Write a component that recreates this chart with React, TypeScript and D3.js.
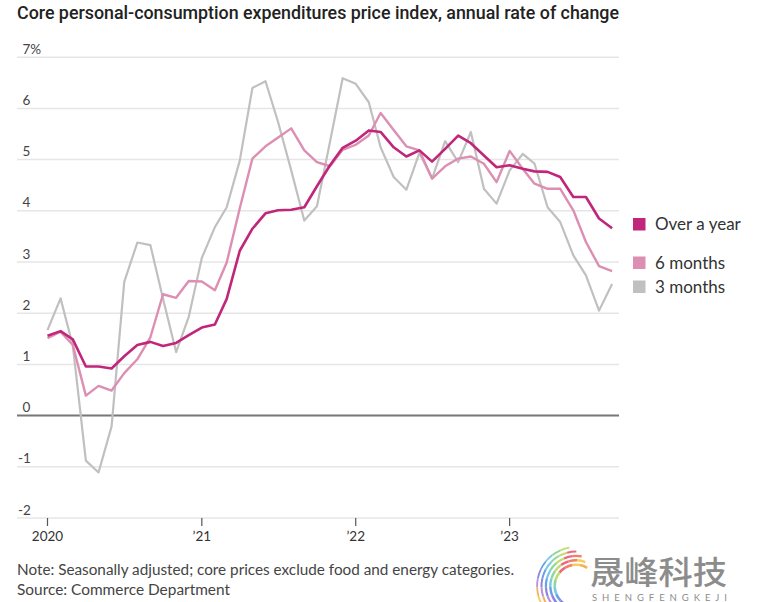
import React from "react";
import * as d3 from "d3";

const months: string[] = d3.range(45).map((i) => {
  const y = 2020 + Math.floor(i / 12);
  const m = (i % 12) + 1;
  return `${y}-${String(m).padStart(2, "0")}-01`;
});

const overYear = [1.56, 1.65, 1.49, 0.96, 0.96, 0.92, 1.16, 1.38, 1.44, 1.36, 1.42, 1.57,
  1.72, 1.78, 2.28, 3.22, 3.65, 3.95, 4.01, 4.02, 4.07, 4.48, 4.89, 5.23,
  5.37, 5.57, 5.54, 5.24, 5.06, 5.18, 4.96, 5.21, 5.47, 5.32, 5.08, 4.85,
  4.89, 4.82, 4.77, 4.76, 4.66, 4.27, 4.27, 3.85, 3.66];

const sixMonths = [1.51, 1.64, 1.38, 0.39, 0.58, 0.49, 0.83, 1.1, 1.53, 2.37, 2.3, 2.63,
  2.62, 2.45, 2.99, 4.05, 5.02, 5.26, 5.43, 5.61, 5.18, 4.95, 4.87, 5.19,
  5.29, 5.47, 5.91, 5.58, 5.26, 5.18, 4.63, 4.87, 5.02, 5.06, 4.92, 4.56,
  5.17, 4.82, 4.53, 4.43, 4.43, 4.01, 3.39, 2.92, 2.82];

const threeMonths = [1.67, 2.29, 1.37, -0.88, -1.11, -0.21, 2.61, 3.38, 3.33, 2.28, 1.24, 1.93,
  3.08, 3.68, 4.07, 4.98, 6.4, 6.53, 5.73, 4.79, 3.81, 4.09, 5.35, 6.59,
  6.48, 6.12, 5.24, 4.66, 4.41, 5.13, 4.63, 5.36, 4.95, 5.54, 4.43, 4.14,
  4.79, 5.11, 4.92, 4.07, 3.78, 3.13, 2.74, 2.05, 2.57];

const yTicks = [-2, -1, 0, 1, 2, 3, 4, 5, 6, 7];
const xTickDates = ["2020-01-01", "2021-01-01", "2022-01-01", "2023-01-01"];
const xTickLabels = ["2020", "\u201921", "\u201922", "\u201923"];

const seriesNames = ["Over a year", "6 months", "3 months"];
const seriesColors = ["#c0267a", "#dc8fb2", "#c0c0c0"];

const title = "Core personal-consumption expenditures price index, annual rate of change";
const note = "Note: Seasonally adjusted; core prices exclude food and energy categories.";
const source = "Source: Commerce Department";

const logoColors = ["#f7a23b", "#f5c542", "#ef6a4a", "#e94d6a", "#b6d85a", "#7fd08a", "#5fc1e6", "#4f8fe0", "#7a6fd8", "#a97fe0"];

export default function App() {
  const W = 780, H = 602;
  const parse = d3.timeParse("%Y-%m-%d");
  const dates = months.map((m) => parse(m) as Date);
  const x = d3.scaleTime().domain([dates[0], dates[dates.length - 1]]).range([47.5, 612.1]);
  const y = d3.scaleLinear().domain([-2, 7]).range([518, 57.2]);
  const gridL = 17, gridR = 619;

  const line = d3.line<number>().x((_, i) => x(dates[i])).y((v) => y(v)).curve(d3.curveLinear);

  const series = [threeMonths, sixMonths, overYear];
  const seriesCols = [seriesColors[2], seriesColors[1], seriesColors[0]];
  const widths = [2.2, 2.4, 2.6];

  const legendY = [224, 262.5, 286.5];

  // watermark swirl: rainbow C-shape
  const arc = d3.arc();
  const segs: { d: string; c: string }[] = [];
  const nSeg = logoColors.length;
  const a0 = 0.55, a1 = -3.05;
  for (let k = 0; k < 5; k++) {
    const r0 = 20 + k * 4.5;
    const start = a0 - k * 0.18;
    const end = a1 + k * 0.12;
    for (let j = 0; j < nSeg; j++) {
      const sa = start + ((end - start) * j) / nSeg;
      const ea = start + ((end - start) * (j + 1)) / nSeg;
      const d = arc({ innerRadius: r0, outerRadius: r0 + 2.6 - k * 0.2, startAngle: sa, endAngle: ea }) || "";
      segs.push({ d, c: logoColors[(j + k) % nSeg] });
    }
  }

  return (
    <svg width={W} height={H} style={{ position: "absolute", left: 0, top: 0, background: "#fff" }}>
      <text x={17} y={19} fontFamily="Roboto" fontWeight={500} fontSize={19} fill="#222"
        textLength={602} lengthAdjust="spacingAndGlyphs">{title}</text>

      {yTicks.map((t) => (
        <g key={t}>
          <line x1={gridL} x2={gridR} y1={y(t)} y2={y(t)}
            stroke={t === 0 ? "#777" : "#e6e6e6"} strokeWidth={t === 0 ? 2 : 1.5} />
          <text x={t < 0 ? 18 : 22.5} y={y(t) - 3.5} fontFamily="Lato" fontSize={13.5} fill="#444">
            {t === 7 ? "7%" : String(t)}
          </text>
        </g>
      ))}

      {xTickDates.map((d, i) => {
        const xx = x(parse(d) as Date);
        return (
          <g key={d}>
            <line x1={xx} x2={xx} y1={518} y2={526} stroke="#555" strokeWidth={1.2} />
            <text x={xx} y={541} textAnchor="middle" fontFamily="Lato" fontSize={13.5} fill="#333">
              {xTickLabels[i]}
            </text>
          </g>
        );
      })}

      {series.map((s, i) => (
        <path key={i} d={line(s) || ""} fill="none" stroke={seriesCols[i]} strokeWidth={widths[i]}
          strokeLinejoin="round" />
      ))}

      {seriesNames.map((n, i) => (
        <g key={n}>
          <rect x={633} y={legendY[i] - 6} width={12.5} height={12.5} fill={seriesColors[i]} />
          <text x={655} y={legendY[i] + 6} fontFamily="Lato" fontSize={17} fill="#333">{n}</text>
        </g>
      ))}

      <text x={17} y={575} fontFamily="Lato" fontSize={14.5} fill="#444"
        textLength={497} lengthAdjust="spacingAndGlyphs">{note}</text>
      <text x={17} y={595} fontFamily="Lato" fontSize={14.5} fill="#444"
        textLength={213} lengthAdjust="spacingAndGlyphs">{source}</text>

      <g transform="translate(576,586)" opacity={0.85}>
        {segs.map((s, i) => (
          <path key={i} d={s.d} fill={s.c} />
        ))}
      </g>
      <text x={590} y={584} fontFamily="Noto Sans CJK SC" fontSize={32} fontWeight={500} fill="#8c8c8c"
        textLength={137} lengthAdjust="spacingAndGlyphs">晟峰科技</text>
      <text x={592} y={601} fontFamily="Lato" fontSize={9.5} fill="#8c8c8c"
        textLength={135} lengthAdjust="spacing">SHENGFENGKEJI</text>
    </svg>
  );
}
